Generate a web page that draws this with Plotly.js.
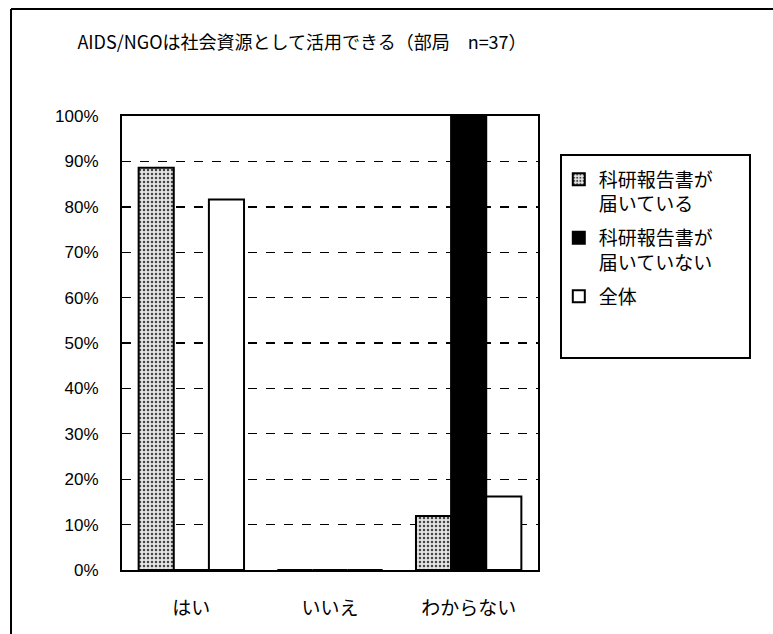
<!DOCTYPE html>
<html>
<head>
<meta charset="utf-8">
<script src="https://cdn.plot.ly/plotly-3.0.1.min.js"></script>
<style>html,body{margin:0;padding:0;background:#fff;}#chart{width:773px;height:634px;}</style>
</head>
<body>
<div id="chart"></div>
<script>
const categories = ['はい', 'いいえ', 'わからない'];
const seriesNames = ['科研報告書が<br>届いている', '科研報告書が<br>届いていない', '全体'];
const received = [88.6, 0, 11.9];
const notReceived = [0, 0, 100];
const overall = [81.6, 0, 16.2];
const yTickVals = [0, 10, 20, 30, 40, 50, 60, 70, 80, 90, 100];
const yTickText = ['0%', '10%', '20%', '30%', '40%', '50%', '60%', '70%', '80%', '90%', '100%'];
const titleText = 'AIDS/NGOは社会資源として活用できる（部局　n=37）';

const jp = '"Noto Sans CJK JP", "Liberation Sans", sans-serif';
const lineStyle = {color: '#000', width: 2};

const traces = [
  {type: 'bar', name: seriesNames[0], x: categories, y: received, legendgroup: 'a',
   marker: {color: '#e0e0e0', line: lineStyle,
            pattern: {shape: '.', fgcolor: '#444', bgcolor: '#e4e4e4', size: 4, solidity: 0.3}}},
  {type: 'bar', name: seriesNames[1], x: categories, y: notReceived, legendgroup: 'b',
   marker: {color: '#000', line: lineStyle}},
  {type: 'bar', name: seriesNames[2], x: categories, y: overall, legendgroup: 'c',
   marker: {color: '#fff', line: lineStyle}}
];

const layout = {
  width: 773, height: 634,
  margin: {l: 122, r: 235, t: 116, b: 64},
  paper_bgcolor: '#fff', plot_bgcolor: '#fff',
  barmode: 'group', bargap: 0.24, bargroupgap: 0,
  title: {text: titleText, font: {family: jp, size: 18, color: '#000'},
          x: 0.3907, xanchor: 'center', y: 1 - 43 / 634, yanchor: 'middle'},
  xaxis: {type: 'category', showline: true, linecolor: '#000', linewidth: 2, mirror: true,
          ticks: 'outside', ticklen: 20, tickcolor: 'rgba(0,0,0,0)',
          tickfont: {family: jp, size: 19, color: '#000'}, showgrid: false, fixedrange: true},
  yaxis: {range: [0, 100], tickvals: yTickVals, ticktext: yTickText,
          showline: true, linecolor: '#000', linewidth: 2, mirror: true,
          ticks: 'outside', ticklen: 18, tickcolor: 'rgba(0,0,0,0)',
          tickfont: {family: '"Liberation Sans", Arial, sans-serif', size: 17, color: '#000'},
          showgrid: true, gridcolor: '#000', gridwidth: 1.4, griddash: 'dash',
          zeroline: false, fixedrange: true},
  showlegend: true,
  legend: {x: 1.05, xanchor: 'left', y: 0.902, yanchor: 'top',
           bgcolor: 'rgba(0,0,0,0)', borderwidth: 0, valign: 'top',
           traceorder: 'grouped', tracegroupgap: 6,
           font: {family: jp, size: 19, color: '#000'}},
  shapes: [
    {type: 'rect', xref: 'paper', yref: 'paper', x0: 1.0553, x1: 1.5096, y0: 0.467, y1: 0.914,
     line: {color: '#000', width: 2}, fillcolor: 'rgba(0,0,0,0)', layer: 'below'},
    {type: 'line', xref: 'paper', yref: 'paper', x0: -0.2668, x1: -0.2668, y0: 1.2357, y1: -0.15,
     line: {color: '#000', width: 2}},
    {type: 'line', xref: 'paper', yref: 'paper', x0: -0.2668, x1: 1.6, y0: 1.2357, y1: 1.2357,
     line: {color: '#000', width: 2}}
  ]
};

Plotly.newPlot('chart', traces, layout, {displayModeBar: false, staticPlot: true});
</script>
</body>
</html>
